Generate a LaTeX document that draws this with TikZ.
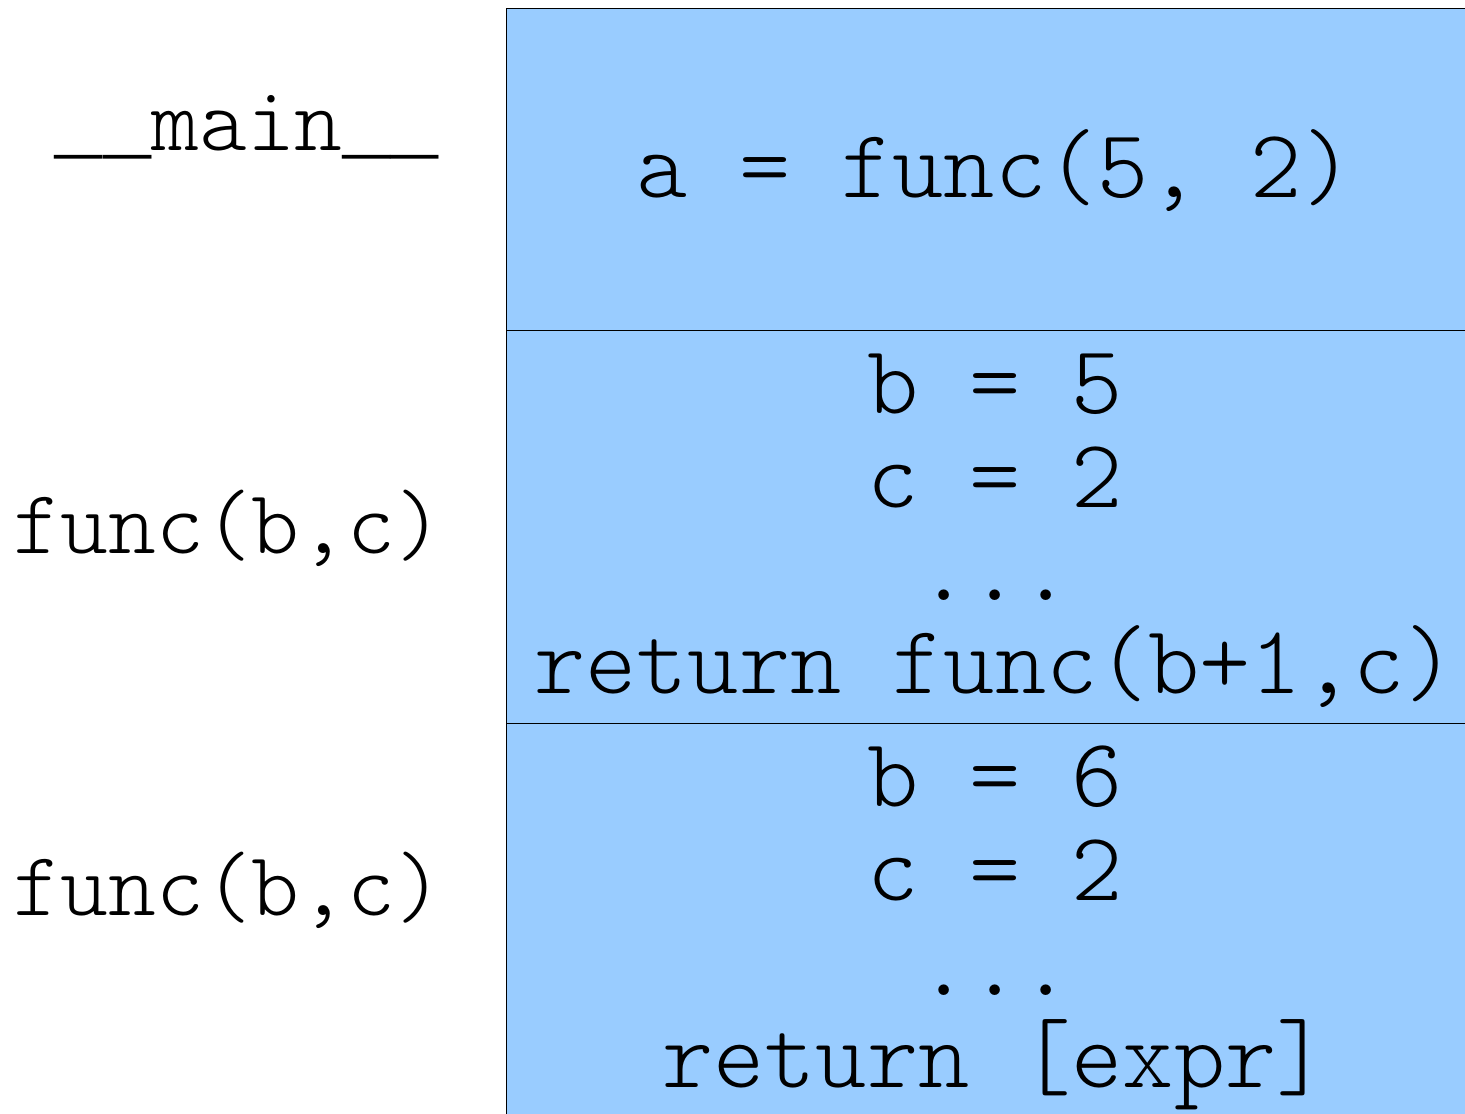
\documentclass[tikz,border=0pt]{standalone}
\usepackage{fontspec}
\setmonofont{Latin Modern Mono Light}
\newfontfamily\undfont{Liberation Mono}
\definecolor{framefill}{HTML}{99CCFF}
\newcommand{\dunder}{{\undfont\fontsize{80.5}{90}\selectfont\_\_}}
\begin{document}
\begin{tikzpicture}[x=1pt,y=-1pt,
  frame/.style={draw=black,line width=0.8pt,fill=framefill},
  code/.style={inner sep=0pt,anchor=base,font=\ttfamily\fontsize{97.5}{100}\selectfont},
  lab/.style={inner sep=0pt,anchor=base,font=\ttfamily\fontsize{91}{96}\selectfont}]
\useasboundingbox (0,0) rectangle (1465,1114);
\draw[frame] (506,8) rectangle (1470,330);
\draw[frame] (506,330) rectangle (1470,723);
\draw[frame] (506,723) rectangle (1470,1120);
\node[code] (a) at (995,197) {a = func(5, 2)};
\node[code] (b1) at (995,413) {b = 5};
\node[code] (c1) at (995,507) {c = 2};
\node[code] (d1) at (995,600) {...};
\node[code] (r1) at (995,693) {return func(b+1,c)};
\node[code] (b2) at (995,806) {b = 6};
\node[code] (c2) at (995,900) {c = 2};
\node[code] (d2) at (995,995) {...};
\node[code] (r2) at (995,1087) {return [expr]};
\node[lab] (lmain) at (247,150) {\dunder main\dunder};
\node[lab] (lf1) at (228,553) {func(b,c)};
\node[lab] (lf2) at (228,915) {func(b,c)};
\end{tikzpicture}
\end{document}
